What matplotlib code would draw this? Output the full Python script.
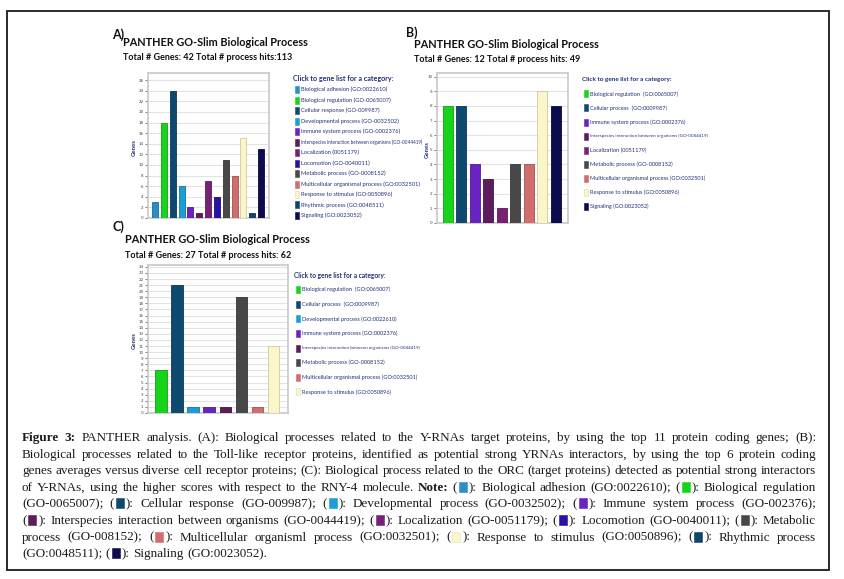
import re
import numpy as np
import matplotlib
matplotlib.use('Agg')
import matplotlib.pyplot as plt
from matplotlib.patches import Rectangle
from matplotlib import colors as mcolors

# ---- data ----
a_keys = ['adh', 'reg', 'cel', 'dev', 'imm', 'int', 'loc', 'lcm', 'met', 'mul', 'res', 'rhy', 'sig']
a_values = [3, 18, 24, 6, 2, 1, 7, 4, 11, 8, 15, 1, 13]
a_legend = ['Biological adhesion (GO:0022610)', 'Biological regulation (GO-0065007)',
            'Cellular response (GO-009987)', 'Developmental process (GO-0032502)',
            'Immune system process (GO-0002376)',
            'Interspecies interaction between organisms (GO-0044419)',
            'Localization (0051179)', 'Locomotion (GO-0040011)', 'Metabolic process (GO-0008152)',
            'Multicellular organismal process (GO:0032501)', 'Response to stimulus (GO:0050896)',
            'Rhythmic process (GO:0048511)', 'Signaling (GO:0023052)']

b_keys = ['reg', 'cel', 'imm', 'int', 'loc', 'met', 'mul', 'res', 'sig']
b_values = [8, 8, 4, 3, 1, 4, 4, 9, 8]
b_legend = ['Biological regulation  (GO:0065007)', 'Cellular process  (GO:0009987)',
            'Immune system process (GO:0002376)',
            'Interspecies interaction between organisms (GO-0044419)',
            'Localization (0051179)', 'Metabolic process (GO-0008152)',
            'Multicellular organismal process (GO:0032501)', 'Response to stimulus (GO:0050896)',
            'Signaling (GO:0023052)']

c_keys = ['reg', 'cel', 'dev', 'imm', 'int', 'met', 'mul', 'res']
c_values = [7, 21, 1, 1, 1, 19, 1, 11]
c_legend = ['Biological regulation  (GO:0065007)', 'Cellular process  (GO:0009987)',
            'Developmental process (GO:0022610)', 'Immune system process (GO:0002376)',
            'Interspecies interaction between organisms (GO-0044419)',
            'Metabolic process (GO-0008152)', 'Multicellular organismal process (GO:0032501)',
            'Response to stimulus (GO:0050896)']

caption = [
    "*Figure *3: PANTHER analysis. (A): Biological processes related to the Y-RNAs target proteins, by using the top 11 protein coding genes; (B):",
    "Biological processes related to the Toll-like receptor proteins, identified as potential strong YRNAs interactors, by using the top 6 protein coding",
    "genes averages versus diverse cell receptor proteins; (C): Biological process related to the ORC (target proteins) detected as potential strong interactors",
    "of Y-RNAs, using the higher scores with respect to the RNY-4 molecule. *Note: ([adh]): Biological adhesion (GO:0022610); ([reg]): Biological regulation",
    "(GO-0065007); ([cel]): Cellular response (GO-009987); ([dev]): Developmental process (GO-0032502); ([imm]): Immune system process (GO-002376);",
    "([int]): Interspecies interaction between organisms (GO-0044419); ([loc]): Localization (GO-0051179); ([lcm]): Locomotion (GO-0040011); ([met]): Metabolic",
    "process (GO-008152); ([mul]): Multicellular organisml process (GO:0032501); ([res]): Response to stimulus (GO:0050896); ([rhy]): Rhythmic process",
    "(GO:0048511); ([sig]): Signaling (GO:0023052).",
]

COL = {'adh': '#2b8fc5', 'reg': '#16d419', 'cel': '#0e4a70', 'dev': '#1d9dd6',
       'imm': '#6923c3', 'int': '#5c1c5d', 'loc': '#772176', 'lcm': '#2911a6',
       'met': '#484848', 'mul': '#d06d6d', 'res': '#faf6ca', 'rhy': '#10456a',
       'sig': '#0b0b4e'}

W, H = 844, 579
NAVY = '#23307a'
SANS = ['Lato', 'DejaVu Sans']

fig = plt.figure(figsize=(W / 100, H / 100), dpi=100)
r = fig.canvas.get_renderer()


def fx(x):
    return x / W


def fy(y):
    return 1 - y / H


def ftxt(x, y, s, **kw):
    return fig.text(fx(x), fy(y), s, **kw)


def width(t):
    return t.get_window_extent(renderer=r).width


def fit(t, target):
    t.set_fontsize(t.get_fontsize() * target / width(t))
    return t.get_fontsize()


def rect(x, y, w, h, color, edge=None):
    fig.add_artist(Rectangle((fx(x), fy(y + h)), w / W, h / H, transform=fig.transFigure,
                             facecolor=color, edgecolor=edge or color, linewidth=0.4))


def darker(c, f=0.75):
    return tuple(np.array(mcolors.to_rgb(c)) * f)


def panel(box, keys, values, ymax, top, step, bw, gl_x):
    x0, y0, x1, y1 = box
    ax = fig.add_axes([fx(x0), fy(y1), (x1 - x0) / W, (y1 - y0) / H])
    x = np.arange(len(values))
    cols = [COL[k] for k in keys]
    edges = ['#cfc99a' if k == 'res' else darker(COL[k]) for k in keys]
    ax.bar(x, values, bw, color=cols, edgecolor=edges, linewidth=0.6, zorder=3)
    ax.set_xlim(-0.8, len(values) - 0.1)
    ax.set_ylim(0, ymax)
    ax.set_yticks(np.arange(0, top + 1, step))
    ax.set_xticks([])
    ax.yaxis.grid(True, color='#e3e3e3', linewidth=0.8, zorder=0)
    ax.set_axisbelow(True)
    ax.tick_params(axis='y', labelsize=3.0, length=2, width=0.5, pad=1.2,
                   colors='#444444')
    for s in ax.spines.values():
        s.set_color('#c8c8c8')
        s.set_linewidth(1.2)
    ftxt(gl_x, (y0 + y1) / 2 + 2, 'Genes', rotation=90, ha='center', va='center',
         fontsize=4.3, weight='bold', color=NAVY, family=SANS)
    return ax


def legend(x, y, dy, keys, labels, title_w, entry_w):
    t = ftxt(x - 2, y, 'Click to gene list for a category:', fontsize=6, weight='bold',
             color=NAVY, family=SANS, va='center')
    fit(t, title_w)
    texts = []
    for i, (k, lab) in enumerate(zip(keys, labels)):
        yy = y + dy * (i + 1)
        rect(x, yy - 3.5, 4, 7, COL[k], '#e0dcb0' if k == 'res' else None)
        texts.append(ftxt(x + 6, yy, lab, fontsize=5, color=NAVY, family=SANS, va='center'))
    fs = fit(texts[0], entry_w)
    for lab, tt in zip(labels, texts):
        tt.set_fontsize(fs * 0.8 if lab.startswith('Interspecies') else fs)


def header(letter, lx, ly, x, y, sub, tw, sw):
    ftxt(lx, ly, letter, fontsize=9, weight='bold', color='#111111', family=SANS, va='center')
    t = ftxt(x, y, 'PANTHER GO-Slim Biological Process', fontsize=12, weight='bold',
             color='#111111', family=SANS, va='center')
    fit(t, tw)
    s = ftxt(x, y + 15, sub, fontsize=10, weight='bold', color='#111111', family=SANS,
             va='center')
    fit(s, sw)


# ---- panel A ----
header('A)', 112, 35, 123, 43, 'Total # Genes: 42 Total # process hits:113', 184, 170)
panel((148, 73, 269, 218), a_keys, a_values, 27.35, 26, 2, 0.68, 134)
legend(295, 79, 10.5, a_keys, a_legend, 100, 87)

# ---- panel B ----
header('B)', 406, 33, 414, 44, 'Total # Genes: 12 Total # process hits: 49', 184, 166)
panel((437, 73, 568, 223), b_keys, b_values, 10.25, 10, 1, 0.74, 427)
legend(584, 80, 14, b_keys, b_legend, 90, 89)

# ---- panel C ----
header('C)', 112, 227, 125, 240, 'Total # Genes: 27 Total # process hits: 62', 184, 165)
panel((148, 265, 288, 413), c_keys, c_values, 24.3, 24, 1, 0.71, 134)
legend(296, 275, 14.6, c_keys, c_legend, 92, 89)

# ---- caption (justified) ----
L, R = 22, 816
SQ_W = 12
SPACE = 3.4


def build_line(line, ybase):
    items = []
    for word in line.split(' '):
        bold = word.startswith('*')
        word = word.lstrip('*')
        segs = []
        for part in re.split(r'(\[\w+\])', word):
            if not part:
                continue
            if part.startswith('['):
                segs.append(['sq', COL[part[1:-1]]])
            else:
                t = ftxt(0, ybase, part, fontsize=10, family=['Liberation Serif'],
                         weight='bold' if bold else 'normal', color='#1c1c1c',
                         va='baseline')
                segs.append(['t', t])
        items.append(segs)
    return items


def seg_w(seg):
    return SQ_W if seg[0] == 'sq' else width(seg[1])


lines = [build_line(line, 441 + 16.6 * i) for i, line in enumerate(caption)]

# choose a single font size so that the tightest justified line fits with normal spaces
scale = 10.0
for items in lines[:-1]:
    tw = sum(width(s[1]) for segs in items for s in segs if s[0] == 't')
    nsq = sum(1 for segs in items for s in segs if s[0] == 'sq')
    avail = (R - L) - SPACE * (len(items) - 1) - nsq * SQ_W
    scale = min(scale, 10.0 * avail / tw)
for items in lines:
    for segs in items:
        for s in segs:
            if s[0] == 't':
                s[1].set_fontsize(scale)

for i, items in enumerate(lines):
    ybase = 441 + 16.6 * i
    total = sum(seg_w(s) for segs in items for s in segs)
    gap = (R - L - total) / (len(items) - 1) if i < len(lines) - 1 else SPACE
    x = L
    for segs in items:
        for s in segs:
            w = seg_w(s)
            if s[0] == 't':
                s[1].set_x(fx(x))
            else:
                rect(x + 2, ybase - 9, 8, 10, s[1], '#e6e2b8' if s[1] == COL['res'] else None)
            x += w
        x += gap

# outer frame
fig.add_artist(Rectangle((fx(7), fy(570)), 822 / W, 559 / H, transform=fig.transFigure,
                         fill=False, edgecolor='#1a1a1a', linewidth=1.3))

fig.savefig('out.png', dpi=100)
